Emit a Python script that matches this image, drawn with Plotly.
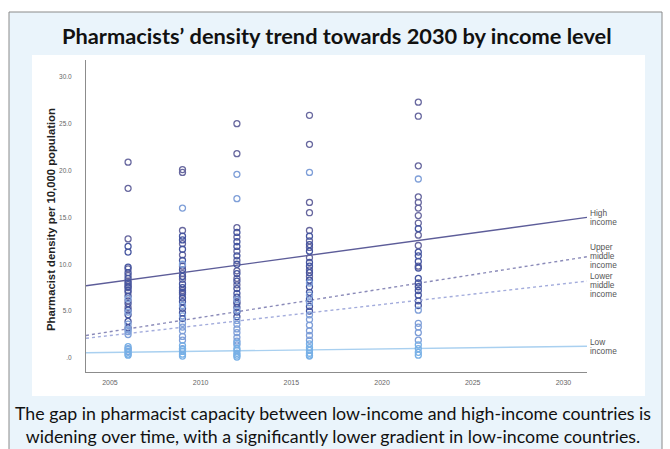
import plotly.graph_objects as go

# Survey years in which pharmacist density was reported
years = [2006, 2009, 2012, 2016, 2022]

# Pharmacists per 10,000 population, one list per survey year
high_income = [
    [20.9, 18.1, 12.7, 9.5, 8.8, 8.2, 7.8, 7.5, 7.0, 6.1, 5.4],
    [20.1, 19.8, 13.6, 12.2, 11.0, 9.8, 9.0, 8.4, 7.2, 6.8],
    [25.0, 21.8, 13.9, 12.9, 11.4, 10.4, 9.3, 8.5, 7.8, 6.0],
    [25.9, 22.8, 16.6, 15.5, 13.6, 12.5, 11.8, 10.7, 9.4, 8.7],
    [27.3, 25.8, 20.5, 17.2, 16.6, 16.0, 15.2, 14.4, 13.1, 12.0, 9.8],
]
upper_middle_income = [
    [11.9, 11.3, 9.7, 9.1, 8.5, 8.0, 7.6, 7.2, 6.6, 5.8, 5.1, 4.6, 3.9, 3.2],
    [13.0, 12.6, 11.6, 10.4, 9.4, 8.7, 7.9, 7.5, 7.0, 6.4, 6.0, 5.3, 4.8, 4.2],
    [13.4, 12.4, 11.9, 10.9, 10.0, 9.0, 8.2, 7.4, 6.9, 6.5, 5.8, 5.4, 4.9, 4.4],
    [13.0, 12.1, 11.4, 10.2, 9.8, 9.1, 8.3, 7.6, 7.0, 6.3, 5.5, 5.0],
    [13.8, 11.3, 10.9, 10.3, 9.6, 8.5, 8.0, 7.6, 7.2, 6.7, 6.1, 5.6],
]
lower_middle_income = [
    [6.3, 4.9, 3.6, 3.0, 2.8, 2.5, 1.0, 0.7],
    [16.0, 10.0, 5.6, 4.5, 3.7, 3.3, 2.9, 2.3, 1.9, 1.0],
    [19.6, 17.0, 6.2, 5.1, 4.0, 3.6, 3.1, 2.7, 2.2, 1.8, 1.4],
    [19.8, 8.0, 6.7, 5.9, 4.6, 4.1, 3.5, 2.9, 2.4, 1.9],
    [19.1, 5.1, 3.7, 3.3, 2.7, 1.9],
]
low_income = [
    [1.2, 0.9, 0.6, 0.4, 0.3],
    [1.3, 0.9, 0.7, 0.4, 0.2],
    [1.6, 1.0, 0.8, 0.5, 0.3, 0.1],
    [1.5, 1.1, 0.8, 0.5, 0.3, 0.2],
    [1.4, 1.0, 0.6, 0.3],
]

# Linear trend fitted values at the two ends of the time axis
trend_years = [2003.68, 2031.3]
trend_high = [7.7, 15.0]
trend_upper_middle = [2.4, 10.8]
trend_lower_middle = [2.1, 8.2]
trend_low = [0.55, 1.25]

x_ticks = [2005, 2010, 2015, 2020, 2025, 2030]
y_ticks = [0, 5, 10, 15, 20, 25, 30]
y_tick_text = [".0", "5.0", "10.0", "15.0", "20.0", "25.0", "30.0"]

# label lines, values, trend, marker colour, line colour, dash, label nudge (px)
groups = [
    (["High", "income"], high_income, trend_high, "#68689f", "#5d5d99", "solid", 0),
    (["Upper", "middle", "income"], upper_middle_income, trend_upper_middle, "#4656a0", "#8b8bb9", "dot", 1),
    (["Lower", "middle", "income"], lower_middle_income, trend_lower_middle, "#7f9fd8", "#a3acdc", "dot", -4),
    (["Low", "income"], low_income, trend_low, "#78b0e6", "#a9d0f0", "solid", 0),
]

# Figure layout in pixels
W, H = 670, 449
L, R, T, B = 86, 587, 60, 372
LABEL_LINE = 9  # line spacing of the trend labels, px


def px_x(p):
    return (p - L) / (R - L)


def px_y(p):
    return (B - p) / (B - T)


fig = go.Figure()

for label_lines, values, trend, mcolor, lcolor, dash, nudge in groups:
    xs, ys = [], []
    for yr, vals in zip(years, values):
        xs += [yr] * len(vals)
        ys += vals
    fig.add_trace(go.Scatter(
        x=trend_years, y=trend, mode="lines",
        line=dict(color=lcolor, width=1.4, dash=dash),
        hoverinfo="skip", showlegend=False,
    ))
    fig.add_trace(go.Scatter(
        x=xs, y=ys, mode="markers", name=" ".join(label_lines),
        marker=dict(symbol="circle-open", size=6, color=mcolor,
                    line=dict(width=1.3, color=mcolor)),
        showlegend=False,
    ))
    # Stacked label beside the end of each trend line
    n = len(label_lines)
    for i, word in enumerate(label_lines):
        fig.add_annotation(
            x=trend_years[1], y=trend[1], xref="x", yref="y",
            text=word, showarrow=False, xanchor="left", yanchor="middle",
            xshift=1, yshift=((n - 1) / 2 - i) * LABEL_LINE + nudge,
            font=dict(family="Liberation Sans, Arial", size=8.3, color="#555555"),
        )

# Framed light-blue panel with a white chart area inside
fig.add_shape(type="rect", xref="paper", yref="paper", layer="below",
              x0=px_x(9), x1=px_x(662), y0=px_y(470), y1=px_y(12),
              fillcolor="#eaf4fb", line=dict(color="#8a8a8a", width=1))
fig.add_shape(type="rect", xref="paper", yref="paper", layer="below",
              x0=px_x(32), x1=px_x(645), y0=px_y(396), y1=px_y(55),
              fillcolor="#ffffff", line=dict(width=0))

fig.add_annotation(
    x=px_x(337), y=px_y(35), xref="paper", yref="paper", showarrow=False,
    text="<b>Pharmacists’ density trend towards 2030 by income level</b>",
    font=dict(family="Lato", size=21.8, color="#111111"),
    xanchor="center", yanchor="middle",
)
fig.add_annotation(
    x=px_x(333), y=px_y(424), xref="paper", yref="paper", showarrow=False,
    text=("The gap in pharmacist capacity between low-income and high-income countries is<br>"
          "widening over time, with a significantly lower gradient in low-income countries."),
    font=dict(family="Lato", size=17.8, color="#111111"),
    xanchor="center", yanchor="middle", align="center",
)
fig.add_annotation(
    x=px_x(51), y=px_y(220), xref="paper", yref="paper", showarrow=False,
    text="<b>Pharmacist density per 10,000 population</b>", textangle=-90,
    font=dict(family="Liberation Sans, Arial", size=11.3, color="#222222"),
    xanchor="center", yanchor="middle",
)

fig.update_layout(
    width=W, height=H,
    margin=dict(l=L, r=W - R, t=T, b=H - B, pad=0),
    paper_bgcolor="#ffffff", plot_bgcolor="rgba(0,0,0,0)",
    showlegend=False,
)
fig.update_xaxes(
    range=trend_years, tickvals=x_ticks, ticktext=[str(v) for v in x_ticks],
    showgrid=False, zeroline=False, showline=True, linecolor="#8c8c8c", linewidth=1,
    ticks="outside", ticklen=4, tickcolor="rgba(0,0,0,0)",
    tickfont=dict(family="Liberation Sans, Arial", size=7, color="#666666"),
)
fig.update_yaxes(
    range=[-1.5, 31.8], tickvals=y_ticks, ticktext=y_tick_text,
    showgrid=False, zeroline=False, showline=True, linecolor="#8c8c8c", linewidth=1,
    ticks="outside", ticklen=12, tickcolor="rgba(0,0,0,0)",
    tickfont=dict(family="Liberation Sans, Arial", size=6.5, color="#666666"),
)

fig.write_html("out.html")
